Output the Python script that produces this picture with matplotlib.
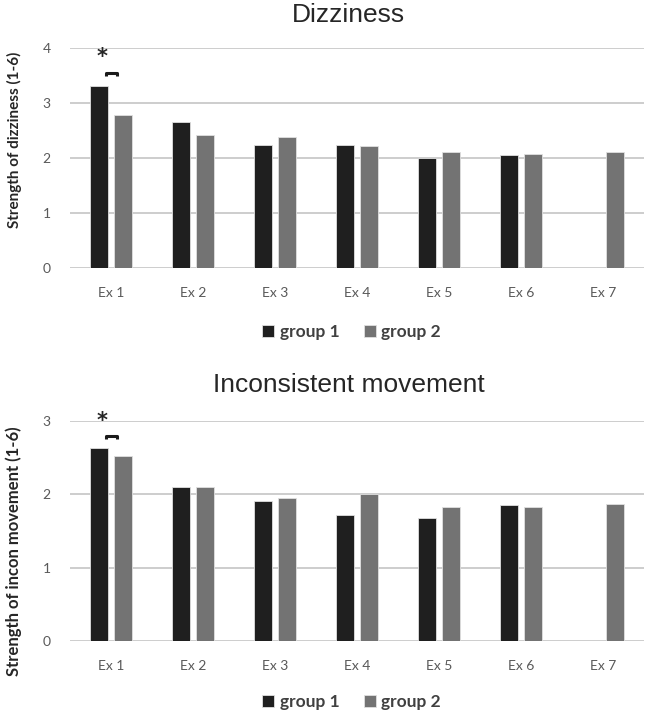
import numpy as np
import matplotlib
matplotlib.use("Agg")
import matplotlib.pyplot as plt

categories = ["Ex 1", "Ex 2", "Ex 3", "Ex 4", "Ex 5", "Ex 6", "Ex 7"]
series_names = ["group 1", "group 2"]

dizzy_g1 = [3.31, 2.66, 2.24, 2.24, 2.00, 2.05, np.nan]
dizzy_g2 = [2.78, 2.42, 2.38, 2.21, 2.11, 2.07, 2.11]

incon_g1 = [2.63, 2.10, 1.90, 1.71, 1.67, 1.85, np.nan]
incon_g2 = [2.52, 2.10, 1.95, 2.00, 1.83, 1.83, 1.86]

dizzy_ticks = [0, 1, 2, 3, 4]
incon_ticks = [0, 1, 2, 3]

C1 = "#1f1f1f"
C2 = "#737373"
GRID = "#c9c9c9"
TXT = "#595959"
FONT = ["Lato", "DejaVu Sans"]
TITLE_FONT = ["Liberation Sans", "DejaVu Sans"]


def draw_panel(ax, g1, g2, yticks, ylabel, lab_size, lab_y, star_y, bracket_y):
    x = np.arange(len(categories))
    w = 0.22
    off = 0.145
    ax.bar(x - off, g1, w, color=C1, edgecolor="#e0e0e0", linewidth=0.6,
           label=series_names[0], zorder=3)
    ax.bar(x + off, g2, w, color=C2, edgecolor="#e0e0e0", linewidth=0.6,
           label=series_names[1], zorder=3)
    ax.set_xlim(-0.5, len(categories) - 0.5)
    ax.set_ylim(0, yticks[-1])
    ax.set_yticks(yticks)
    ax.set_xticks(x)
    ax.set_xticklabels(categories)
    for s in ax.spines.values():
        s.set_visible(False)
    ax.yaxis.grid(True, color=GRID, linewidth=1.3, zorder=0)
    ax.tick_params(length=0, colors=TXT, labelsize=10, pad=14)
    ax.tick_params(axis="y", pad=14)
    for lab in ax.get_xticklabels() + ax.get_yticklabels():
        lab.set_family(FONT)
    ax.set_ylabel(ylabel, fontsize=lab_size, fontweight="bold", family=FONT,
                  color="#262626")
    ax.yaxis.set_label_coords(-0.084, lab_y)

    # significance marker over Ex 1
    ax.text(-0.11, star_y, "*", ha="center", va="center", fontsize=15,
            fontweight="bold", color="#262626", family="DejaVu Sans")
    bx = [-0.06, -0.06, 0.075, 0.075]
    span = yticks[-1] * 0.012
    ax.plot(bx, [bracket_y - span, bracket_y, bracket_y, bracket_y - span],
            color="#1a1a1a", linewidth=2.2, solid_capstyle="butt", zorder=4)


fig = plt.figure(figsize=(6.45, 7.14), dpi=100)
ax1 = fig.add_axes([0.1085, 0.6246, 0.89, 0.3082])
ax2 = fig.add_axes([0.1085, 0.1022, 0.89, 0.3086])

draw_panel(ax1, dizzy_g1, dizzy_g2, dizzy_ticks,
           "Strength of dizziness (1-6)", 11, 0.584, 3.84, 3.54)
draw_panel(ax2, incon_g1, incon_g2, incon_ticks,
           "Strength of incon movement (1-6)", 12, 0.406, 3.0, 2.79)

fig.text(0.54, 0.979, "Dizziness", ha="center", va="center", fontsize=19,
         family=TITLE_FONT, color="#262626")
fig.text(0.541, 0.461, "Inconsistent movement", ha="center", va="center",
         fontsize=19, family=TITLE_FONT, color="#262626")

for ax, ypos in [(ax1, 0.535), (ax2, 0.017)]:
    h, l = ax.get_legend_handles_labels()
    fig.legend(h, l, loc="center", bbox_to_anchor=(0.545, ypos), ncol=2,
               frameon=False, handlelength=0.7, handleheight=0.7,
               handletextpad=0.3, columnspacing=1.4,
               prop={"family": FONT, "size": 12.5, "weight": "bold"},
               labelcolor="#404040")

fig.savefig("out.png", dpi=100)
